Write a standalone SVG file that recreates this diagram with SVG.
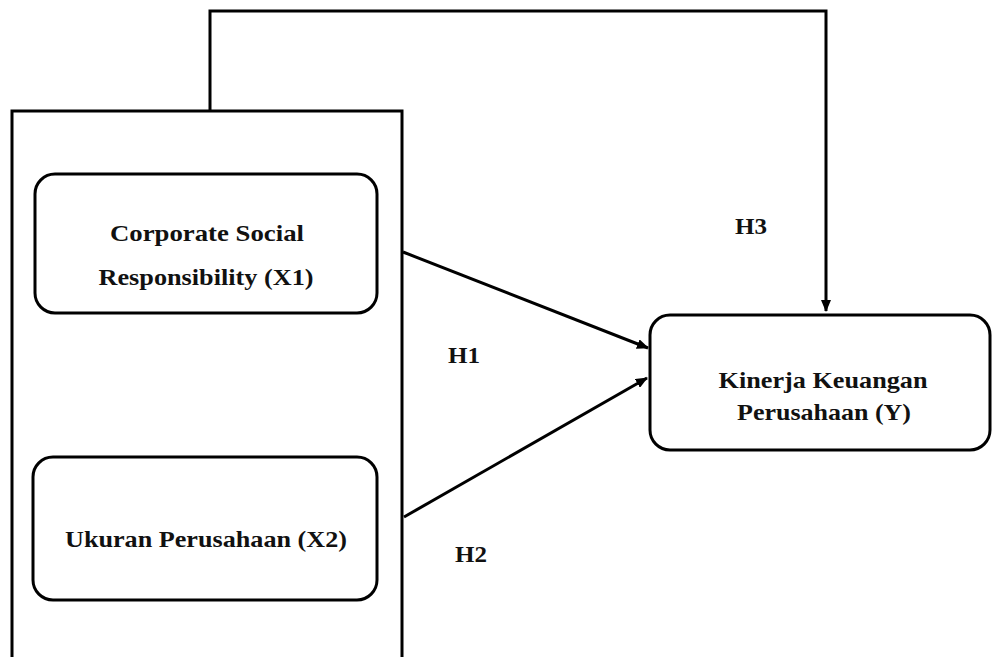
<svg xmlns="http://www.w3.org/2000/svg" width="992" height="657" viewBox="0 0 992 657">
<style>
.box{fill:#fff;stroke:#000;stroke-width:3}
.frame{fill:none;stroke:#000;stroke-width:3}
.con{fill:none;stroke:#000;stroke-width:3}
.t{font-family:"Liberation Serif","Times New Roman",serif;font-weight:bold;font-size:24px;fill:#111;text-anchor:middle}
</style>
<defs>
<marker id="ah" markerWidth="12" markerHeight="10" refX="11" refY="5" orient="auto" markerUnits="userSpaceOnUse">
<path d="M0,0 L12,5 L0,10 Z" fill="#000"/>
</marker>
</defs>
<rect width="992" height="657" fill="#fff"/>
<g id="group-frame">
<rect class="frame" x="12" y="111" width="390" height="560"/>
</g>
<g id="connectors">
<path class="con" d="M210,111 V11 H826 V311" marker-end="url(#ah)"/>
<line class="con" x1="403" y1="252" x2="648" y2="348" marker-end="url(#ah)"/>
<line class="con" x1="404" y1="517" x2="647" y2="378" marker-end="url(#ah)"/>
</g>
<g id="node-x1">
<rect class="box" x="35" y="174" width="342" height="139" rx="20"/>
<text class="t" x="207" y="241" textLength="194" lengthAdjust="spacingAndGlyphs">Corporate Social</text>
<text class="t" x="206" y="285" textLength="215" lengthAdjust="spacingAndGlyphs">Responsibility (X1)</text>
</g>
<g id="node-x2">
<rect class="box" x="33" y="457" width="344" height="143" rx="20"/>
<text class="t" x="206" y="547" textLength="282" lengthAdjust="spacingAndGlyphs">Ukuran Perusahaan (X2)</text>
</g>
<g id="node-y">
<rect class="box" x="650" y="315" width="340" height="135" rx="20"/>
<text class="t" x="823" y="388" textLength="209" lengthAdjust="spacingAndGlyphs">Kinerja Keuangan</text>
<text class="t" x="824" y="420" textLength="174" lengthAdjust="spacingAndGlyphs">Perusahaan (Y)</text>
</g>
<g id="labels">
<text class="t" x="464" y="363" textLength="32" lengthAdjust="spacingAndGlyphs">H1</text>
<text class="t" x="471" y="562" textLength="32" lengthAdjust="spacingAndGlyphs">H2</text>
<text class="t" x="751" y="234" textLength="32" lengthAdjust="spacingAndGlyphs">H3</text>
</g>
</svg>
